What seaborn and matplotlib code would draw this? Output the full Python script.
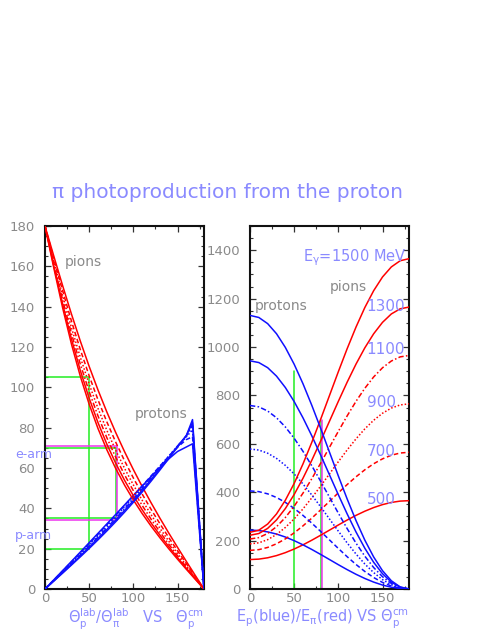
import matplotlib
matplotlib.use("Agg")
import matplotlib.pyplot as plt
from matplotlib.ticker import MultipleLocator
import seaborn as sns

# ---------------- data ----------------
energies = [500, 700, 900, 1100, 1300, 1500]          # photon energy, MeV
theta_cm = [0, 10, 20, 30, 40, 50, 60, 70, 80, 90, 100, 110, 120, 130, 140, 150, 160, 170, 180]
theta_cm_p = [0, 10, 20, 30, 40, 50, 60, 70, 80, 90, 100, 110, 120, 130, 140, 150, 160, 167, 180]

# left panel: proton lab angle vs theta_p^cm (blue)
proton_lab_500 = [0, 4.57, 9.14, 13.72, 18.33, 22.96, 27.61, 32.27, 36.95, 41.66, 46.38, 51.07, 55.71, 60.22, 64.48, 68.18, 70.42, 72.0, 0]
proton_lab_700 = [0, 4.46, 8.93, 13.43, 17.95, 22.52, 27.13, 31.81, 36.54, 41.33, 46.19, 51.09, 56.01, 60.92, 65.74, 70.30, 74.08, 75.5, 0]
proton_lab_900 = [0, 4.33, 8.67, 13.03, 17.45, 21.92, 26.46, 31.08, 35.79, 40.60, 45.51, 50.51, 55.59, 60.72, 65.85, 70.86, 75.41, 79.0, 0]
proton_lab_1100 = [0, 4.19, 8.39, 12.63, 16.93, 21.29, 25.74, 30.30, 34.97, 39.76, 44.68, 49.74, 54.93, 60.21, 65.57, 70.89, 75.92, 81.0, 0]
proton_lab_1300 = [0, 4.06, 8.13, 12.25, 16.43, 20.69, 25.05, 29.52, 34.14, 38.91, 43.83, 48.93, 54.19, 59.60, 65.12, 70.69, 76.08, 82.5, 0]
proton_lab_1500 = [0, 3.93, 7.89, 11.89, 15.96, 20.10, 24.38, 28.78, 33.34, 38.07, 42.99, 48.10, 53.43, 58.94, 64.61, 70.37, 76.06, 84.0, 0]

# left panel: pion lab angle vs theta_p^cm (red)
pion_lab_500 = [180, 165.03, 150.36, 136.27, 122.91, 110.37, 98.68, 87.79, 77.64, 68.15, 59.24, 50.82, 42.83, 35.18, 27.82, 20.68, 13.70, 6.82, 0]
pion_lab_700 = [180, 163.70, 147.84, 132.76, 118.70, 105.71, 93.80, 82.89, 72.88, 63.64, 55.08, 47.08, 39.56, 32.42, 25.58, 18.99, 12.56, 6.25, 0]
pion_lab_900 = [180, 162.45, 145.48, 129.54, 114.88, 101.56, 89.54, 78.68, 68.83, 59.87, 51.64, 44.01, 36.89, 30.17, 23.78, 17.63, 11.66, 5.80, 0]
pion_lab_1100 = [180, 161.27, 143.29, 126.59, 111.44, 97.88, 85.80, 75.03, 65.38, 56.67, 48.75, 41.46, 34.68, 28.33, 22.30, 16.52, 10.91, 5.43, 0]
pion_lab_1300 = [180, 160.17, 141.25, 123.87, 108.32, 94.58, 82.50, 71.85, 62.40, 53.94, 46.29, 39.29, 32.83, 26.78, 21.06, 15.59, 10.30, 5.12, 0]
pion_lab_1500 = [180, 159.13, 139.34, 121.37, 105.48, 91.62, 79.57, 69.04, 59.79, 51.56, 44.17, 37.43, 31.24, 25.46, 20.01, 14.80, 9.77, 4.86, 0]

# right panel: proton kinetic energy (blue), MeV
proton_E_500 = [243.3, 241.5, 236.0, 227.0, 214.8, 199.8, 182.5, 163.3, 142.8, 121.7, 100.5, 80.0, 60.8, 43.5, 28.5, 16.3, 7.3, 1.8, 0]
proton_E_700 = [405.4, 402.3, 393.2, 378.2, 358.0, 333.0, 304.1, 272.0, 237.9, 202.7, 167.5, 133.4, 101.4, 72.4, 47.4, 27.2, 12.2, 3.1, 0]
proton_E_900 = [578.5, 574.1, 561.1, 539.7, 510.8, 475.2, 433.9, 388.2, 339.5, 289.3, 239.0, 190.3, 144.6, 103.3, 67.7, 38.8, 17.4, 4.4, 0]
proton_E_1100 = [758.4, 752.6, 735.5, 707.6, 669.7, 622.9, 568.8, 508.9, 445.0, 379.2, 313.4, 249.5, 189.6, 135.5, 88.7, 50.8, 22.9, 5.8, 0]
proton_E_1300 = [942.9, 935.7, 914.5, 879.7, 832.6, 774.5, 707.2, 632.7, 553.3, 471.5, 389.6, 310.2, 235.7, 168.4, 110.3, 63.2, 28.4, 7.2, 0]
proton_E_1500 = [1130.6, 1122.0, 1096.5, 1054.9, 998.3, 928.7, 848.0, 758.6, 663.5, 565.3, 467.1, 371.9, 282.7, 201.9, 132.3, 75.7, 34.1, 8.6, 0]

# right panel: pion kinetic energy (red), MeV
pion_E_500 = [121.7, 123.5, 129.0, 138.0, 150.2, 165.2, 182.5, 201.7, 222.2, 243.3, 264.5, 285.0, 304.2, 321.5, 336.5, 348.7, 357.7, 363.2, 365]
pion_E_700 = [159.6, 162.7, 171.8, 186.8, 207.0, 232.0, 260.9, 293.0, 327.1, 362.3, 397.5, 431.6, 463.6, 492.6, 517.6, 537.8, 552.8, 561.9, 565]
pion_E_900 = [186.5, 190.9, 203.9, 225.3, 254.2, 289.8, 331.1, 376.8, 425.5, 475.7, 526.0, 574.7, 620.4, 661.7, 697.3, 726.2, 747.6, 760.6, 765]
pion_E_1100 = [206.6, 212.4, 229.5, 257.4, 295.3, 342.1, 396.2, 456.1, 520.0, 585.8, 651.6, 715.5, 775.4, 829.5, 876.3, 914.2, 942.1, 959.2, 965]
pion_E_1300 = [222.1, 229.3, 250.5, 285.3, 332.4, 390.5, 457.8, 532.3, 611.7, 693.5, 775.4, 854.8, 929.3, 996.6, 1054.7, 1101.8, 1136.6, 1157.8, 1165]
pion_E_1500 = [234.4, 243.0, 268.5, 310.1, 366.7, 436.3, 517.0, 606.4, 701.5, 799.7, 897.9, 993.1, 1082.3, 1163.1, 1232.7, 1289.3, 1330.9, 1356.4, 1365]

proton_lab = dict(zip(energies, [proton_lab_500, proton_lab_700, proton_lab_900, proton_lab_1100, proton_lab_1300, proton_lab_1500]))
pion_lab = dict(zip(energies, [pion_lab_500, pion_lab_700, pion_lab_900, pion_lab_1100, pion_lab_1300, pion_lab_1500]))
proton_E = dict(zip(energies, [proton_E_500, proton_E_700, proton_E_900, proton_E_1100, proton_E_1300, proton_E_1500]))
pion_E = dict(zip(energies, [pion_E_500, pion_E_700, pion_E_900, pion_E_1100, pion_E_1300, pion_E_1500]))

# guide boxes (arm acceptances)
green_theta = [50, 80]
green_lab_hi = [105, 70]
green_lab_lo = [20, 35]
pink_theta = 82
pink_lab_hi = 71
pink_lab_lo = 34
green_E_top = [900, 695]
pink_E_top = 700

energy_labels = ["1300", "1100", "900", "700", "500"]
energy_label_y = [1169, 990, 771, 567, 370]

# ---------------- style ----------------
sns.set_theme(style="white")
plt.rcParams["font.family"] = ["DejaVu Sans"]
plt.rcParams["mathtext.default"] = "regular"

GRAY = "#8a8a8a"
LAV = "#8a8aff"
RED = "#ff0000"
BLUE = "#1010ff"
GREEN = "#22ee22"
PINK = "#ee33ee"

linestyle = {500: "-", 700: (0, (3, 1.8)), 900: (0, (1, 1.3)),
             1100: (0, (3.5, 1.5, 1, 1.5)), 1300: "-", 1500: "-"}

W, H = 491, 635
fig = plt.figure(figsize=(W / 100, H / 100), dpi=100)
ax1 = fig.add_axes([45 / W, 46 / H, 159 / W, 363 / H])
ax2 = fig.add_axes([250 / W, 46 / H, 159 / W, 363 / H])

for ax in (ax1, ax2):
    ax.set_facecolor("white")
    for sp in ax.spines.values():
        sp.set_visible(True)
        sp.set_color("#111111")
        sp.set_linewidth(1.5)
    ax.tick_params(which="both", direction="in", top=True, right=True,
                   bottom=True, left=True, color="#333333", labelcolor=GRAY,
                   labelsize=9.5)
    ax.tick_params(which="major", length=4.0, width=0.9)
    ax.tick_params(which="minor", length=2.0, width=0.8)
    ax.tick_params(axis="y", pad=7)
    ax.tick_params(axis="x", pad=2)
    ax.set_xlim(0, 180)
    ax.xaxis.set_major_locator(MultipleLocator(50))
    ax.xaxis.set_minor_locator(MultipleLocator(25))
    ax.grid(False)

ax1.set_ylim(0, 180)
ax1.yaxis.set_major_locator(MultipleLocator(20))
ax1.yaxis.set_minor_locator(MultipleLocator(5))
ax2.set_ylim(0, 1500)
ax2.yaxis.set_major_locator(MultipleLocator(200))
ax2.yaxis.set_minor_locator(MultipleLocator(50))

# guide lines (left)
for th, hi, lo in zip(green_theta, green_lab_hi, green_lab_lo):
    ax1.plot([0, th], [hi, hi], color=GREEN, lw=1.1, zorder=1)
    ax1.plot([0, th], [lo, lo], color=GREEN, lw=1.1, zorder=1)
    ax1.plot([th, th], [lo, hi], color=GREEN, lw=1.1, zorder=1)
ax1.plot([0, pink_theta], [pink_lab_hi, pink_lab_hi], color=PINK, lw=1.1, zorder=1)
ax1.plot([0, pink_theta], [pink_lab_lo, pink_lab_lo], color=PINK, lw=1.1, zorder=1)
ax1.plot([pink_theta, pink_theta], [pink_lab_lo, pink_lab_hi], color=PINK, lw=1.1, zorder=1)

# guide lines (right)
for th, top in zip(green_theta, green_E_top):
    ax2.plot([th, th], [0, top], color=GREEN, lw=1.1, zorder=1)
ax2.plot([pink_theta, pink_theta], [0, pink_E_top], color=PINK, lw=1.1, zorder=1)

# curves
for E in energies:
    ls = linestyle[E]
    sns.lineplot(x=theta_cm, y=pion_lab[E], ax=ax1, color=RED, linestyle=ls,
                 lw=1.1, estimator=None, sort=False, legend=False, zorder=3)
    sns.lineplot(x=theta_cm_p, y=proton_lab[E], ax=ax1, color=BLUE, linestyle=ls,
                 lw=1.1, estimator=None, sort=False, legend=False, zorder=3)
    sns.lineplot(x=theta_cm, y=pion_E[E], ax=ax2, color=RED, linestyle=ls,
                 lw=1.1, estimator=None, sort=False, legend=False, zorder=3)
    sns.lineplot(x=theta_cm, y=proton_E[E], ax=ax2, color=BLUE, linestyle=ls,
                 lw=1.1, estimator=None, sort=False, legend=False, zorder=3)

for ax in (ax1, ax2):
    ax.set_xlabel("")
    ax.set_ylabel("")

# annotations
ax1.text(22.5, 162, "pions", color=GRAY, fontsize=10, va="center", ha="left")
ax1.text(102, 87, "protons", color=GRAY, fontsize=10, va="center", ha="left")
ax2.text(5.5, 1169, "protons", color=GRAY, fontsize=10, va="center", ha="left")
ax2.text(90.5, 1248, "pions", color=GRAY, fontsize=10, va="center", ha="left")
ax2.text(60, 1370, r"E$_\gamma$=1500 MeV", color=LAV, fontsize=10.5, va="center", ha="left")
for lab, yv in zip(energy_labels, energy_label_y):
    ax2.text(132, yv, lab, color=LAV, fontsize=11, va="center", ha="left")

fig.text(15 / W, 1 - 455 / H, "e-arm", color=LAV, fontsize=9, va="center", ha="left")
fig.text(15 / W, 1 - 536 / H, "p-arm", color=LAV, fontsize=9, va="center", ha="left")

fig.text(227 / W, 1 - 193 / H, "π photoproduction from the proton", color=LAV,
         fontsize=14.5, ha="center", va="center")

fig.text(204 / W, 1 - 619 / H, r"$\Theta_p^{lab}/\Theta_\pi^{lab}$   VS   $\Theta_p^{cm}$",
         color=LAV, fontsize=10.5, ha="right", va="center")
fig.text(409 / W, 1 - 619 / H, r"E$_p$(blue)/E$_\pi$(red) VS $\Theta_p^{cm}$",
         color=LAV, fontsize=10.5, ha="right", va="center")

fig.savefig("out.png", dpi=100, facecolor="white")
